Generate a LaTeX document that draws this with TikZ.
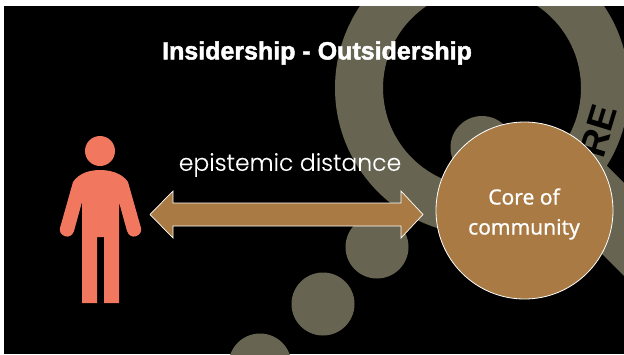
\documentclass[tikz,border=0pt]{standalone}
\usepackage{fontspec}
\setmainfont{Liberation Sans}
\newfontfamily\titlef[UprightFont=* Bold,FakeBold=1.8]{Liberation Sans}
\newfontfamily\geof[FakeBold=0.2]{Poppins Light}
\newfontfamily\coref[FakeBold=0.7]{Noto Sans}
\definecolor{ringc}{HTML}{676552}
\definecolor{brownc}{HTML}{A97A43}
\definecolor{personc}{HTML}{F1775F}
\tikzset{
  px/.style={x=1pt,y=-1pt},
  dotc/.style={circle,fill=ringc,minimum size=63pt,inner sep=0pt},
  corec/.style={circle,draw=white,line width=0.8pt,fill=brownc,minimum size=177pt,inner sep=0pt},
  coretxt/.style={text=white,inner sep=0pt,align=center,font=\coref\fontsize{21}{30}\selectfont},
  txt/.style={text=white,inner sep=0pt}
}
\begin{document}
\begin{tikzpicture}[px]
\useasboundingbox (0,0) rectangle (624,354);
\fill[white] (0,0) rectangle (624,354);
\begin{scope}
\clip (4,6) rectangle (624,354);
\fill[black] (4,6) rectangle (624,354);
% ring
\fill[ringc,even odd rule] (482,88) circle[radius=147] (482,88) circle[radius=99];
\fill[ringc] (590,149) -- (640,199) -- (640,292) -- (560,212) -- cycle;
\node[dotc] (d1) at (482,147.5) {};
\node[dotc] (d2) at (377,247) {};
\node[dotc] (d3) at (323,304) {};
\node[dotc] (d4) at (260,365) {};
\node[text=black,inner sep=0pt,rotate=73,font=\bfseries\fontsize{37}{37}\selectfont] (re) at (598.5,131) {RE};
\end{scope}
% person
\fill[personc] (100,151) circle[radius=15];
\fill[personc] (100,170) .. controls (110,170) and (122,173) .. (128,182)
  -- (141,228) .. controls (143,236) and (130,241) .. (127,231)
  -- (119,202) -- (119,303) -- (104,303) -- (104,237) -- (97,237) -- (97,303) -- (82,303) -- (82,202)
  -- (74,231) .. controls (71,241) and (58,236) .. (60,228)
  -- (73,182) .. controls (79,173) and (90,170) .. (100,170) -- cycle;
% arrow
\draw[white,line width=0.7pt,fill=brownc] (150,214.5) -- (173,191) -- (173,203) -- (401,203) -- (401,191) -- (423,214.5) -- (401,238) -- (401,226) -- (173,226) -- (173,238) -- cycle;
\node[corec] (core) at (524.5,210.5) {};
\node[coretxt] (coretext) at (524,214) {Core of\\community};
\node[txt,font=\titlef\fontsize{25}{25}\selectfont] (title) at (317,53) {Insidership - Outsidership};
\node[txt,font=\geof\fontsize{23.5}{23.5}\selectfont] (dist) at (290,165) {epistemic distance};
\end{tikzpicture}
\end{document}
